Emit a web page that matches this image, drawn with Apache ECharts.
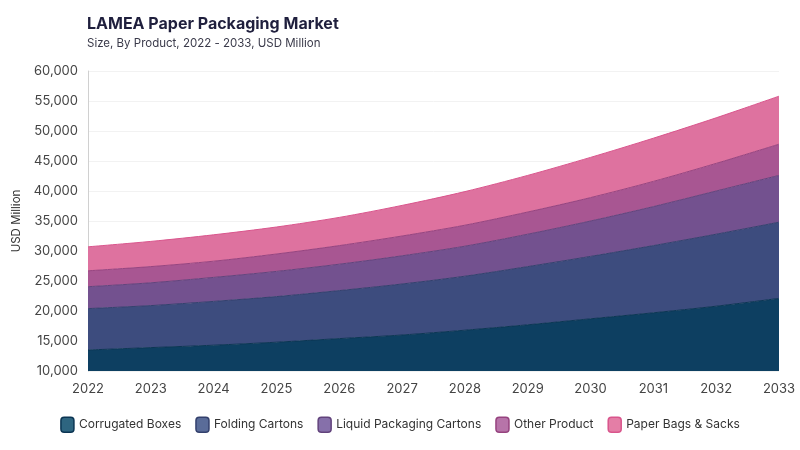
<!DOCTYPE html>
<html>
<head>
<meta charset="utf-8">
<script src="https://cdn.jsdelivr.net/npm/echarts@6/dist/echarts.min.js"></script>
<style>
  html, body { margin: 0; padding: 0; background: #fff; }
  #chart { width: 800px; height: 450px; }
</style>
</head>
<body>
<div id="chart"></div>
<script>
const years = ['2022','2023','2024','2025','2026','2027','2028','2029','2030','2031','2032','2033'];
const corrugatedBoxes = [13500, 13900, 14300, 14800, 15400, 16000, 16800, 17700, 18700, 19700, 20800, 22100];
const foldingCartons = [6900, 7000, 7300, 7600, 8000, 8500, 9000, 9700, 10400, 11200, 12000, 12700];
const liquidCartons = [3650, 3800, 4000, 4200, 4400, 4700, 5000, 5400, 5900, 6500, 7200, 7800];
const otherProduct = [2650, 2700, 2700, 2900, 3100, 3300, 3500, 3700, 3900, 4200, 4600, 5200];
const paperBags = [4000, 4200, 4400, 4500, 4700, 5100, 5600, 6100, 6700, 7200, 7600, 8000];

const seriesNames = ['Corrugated Boxes', 'Folding Cartons', 'Liquid Packaging Cartons', 'Other Product', 'Paper Bags & Sacks'];
const fills = ['#0d3f61', '#3d4c7e', '#73518f', '#a85692', '#de729f'];
const lines = ['#0b3553', '#33406d', '#62437c', '#96437f', '#d9558c'];
const legendFills = ['#2e6580', '#5a6c99', '#8670aa', '#b774a9', '#e47ea6'];

const values = [corrugatedBoxes, foldingCartons, liquidCartons, otherProduct, paperBags];

const chart = echarts.init(document.getElementById('chart'));
chart.setOption({
  animation: false,
  textStyle: { fontFamily: 'Inter' },
  title: {
    text: 'LAMEA Paper Packaging Market',
    subtext: 'Size, By Product, 2022 - 2033, USD Million',
    left: 82,
    top: 11,
    itemGap: 6,
    textStyle: { fontSize: 16, fontWeight: 'bold', color: '#1f1f3d', fontFamily: 'Inter' },
    subtextStyle: { fontSize: 11.5, color: '#3a3a4a', fontFamily: 'Inter' }
  },
  legend: {
    bottom: 12,
    left: 'center',
    itemWidth: 13,
    itemHeight: 15,
    itemGap: 14,
    icon: 'roundRect',
    textStyle: { fontSize: 12, color: '#333', fontFamily: 'Inter' },
    data: seriesNames.map((n, i) => ({
      name: n,
      itemStyle: { color: legendFills[i], borderColor: lines[i], borderWidth: 1.5 }
    }))
  },
  grid: { left: 88, right: 21, top: 71, bottom: 79 },
  xAxis: {
    type: 'category',
    data: years,
    boundaryGap: false,
    axisLine: { show: false },
    axisTick: { show: false },
    axisLabel: { color: '#444', fontSize: 13, margin: 12 }
  },
  yAxis: {
    type: 'value',
    min: 10000,
    max: 60000,
    interval: 5000,
    name: 'USD Million',
    nameLocation: 'middle',
    nameGap: 60,
    nameTextStyle: { color: '#333', fontSize: 11.5 },
    axisLine: { show: true, lineStyle: { color: '#d0d0d0' } },
    axisTick: { show: false },
    axisLabel: {
      color: '#444',
      fontSize: 13,
      margin: 10,
      formatter: v => v.toLocaleString('en-US')
    },
    splitLine: { lineStyle: { color: '#f2f2f2' } }
  },
  series: values.map((arr, i) => ({
    name: seriesNames[i],
    type: 'line',
    stack: 'total',
    smooth: 0.3,
    symbol: 'none',
    data: arr,
    itemStyle: { color: fills[i] },
    lineStyle: { color: lines[i], width: 1 },
    areaStyle: { color: fills[i], opacity: 1 }
  }))
});
</script>
</body>
</html>
